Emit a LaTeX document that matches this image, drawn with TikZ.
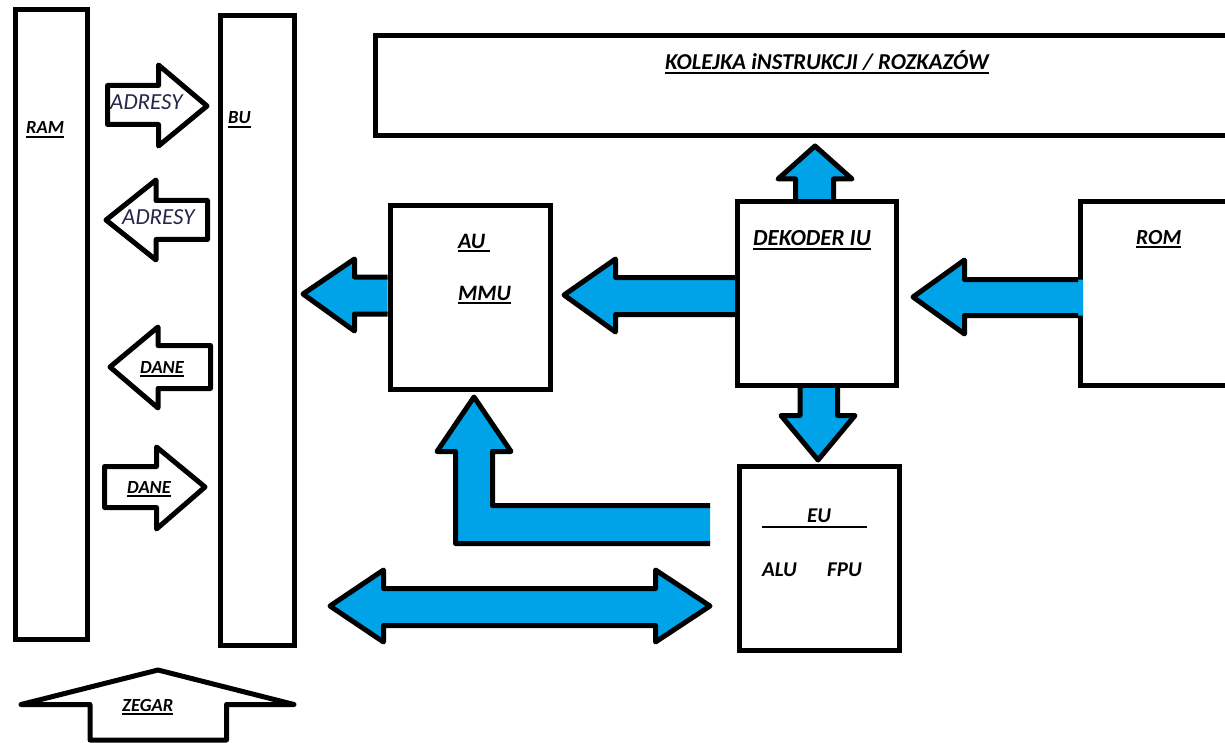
\documentclass[tikz,border=0pt]{standalone}
\usepackage{fontspec}
\setmainfont{Carlito}
\definecolor{pblue}{RGB}{0,162,232}
\definecolor{adr}{RGB}{35,40,75}
\newsavebox\ulb
\newcommand\ulx[1]{\sbox\ulb{#1}\rlap{\rule[-3.6pt]{\wd\ulb}{2pt}}\usebox\ulb}
\begin{document}
\begin{tikzpicture}[x=1pt,y=-1pt,
  box/.style={draw, line width=5pt, fill=white, inner sep=0pt, outer sep=0pt},
  warrow/.style={draw, line width=5pt, fill=white, line join=round},
  bline/.style={draw, line width=5pt, line join=round},
  lbl/.style={inner sep=0pt, anchor=base west, font=\bfseries\itshape\fontsize{18.5}{20}\selectfont},
  lblb/.style={inner sep=0pt, anchor=base west, font=\bfseries\itshape\fontsize{22}{24}\selectfont},
  lbla/.style={inner sep=0pt, anchor=base west, text=adr, font=\itshape\fontsize{23}{25}\selectfont}]
\useasboundingbox (0,0) rectangle (1225,743);
\fill[white] (0,0) rectangle (1225,743);

% boxes
\node[box, minimum width=72.5pt, minimum height=629.5pt] (ram) at (51.25,324.75) {};
\node[box, minimum width=74pt, minimum height=629.5pt] (bu) at (257.5,330.25) {};
\node[box, minimum width=865pt, minimum height=100.5pt] (kol) at (807.5,85.75) {};
\node[box, minimum width=160.5pt, minimum height=184pt] (au) at (470.25,297.5) {};
\node[box, minimum width=158.5pt, minimum height=184pt] (dek) at (816.75,293.5) {};
\node[box, minimum width=160.5pt, minimum height=184pt] (eu) at (819.25,558.5) {};
\node[box, minimum width=159.5pt, minimum height=183.5pt] (rom) at (1160.25,293.75) {};

% white arrows between RAM and BU
\draw[warrow] (107.5,85.5) -- (158.5,85.5) -- (158.5,65) -- (207,106) -- (158.5,146) -- (158.5,124.5) -- (107.5,124.5) -- cycle;
\draw[warrow] (207.5,200.5) -- (156,200.5) -- (156,180) -- (106,220) -- (156,260) -- (156,239.5) -- (207.5,239.5) -- cycle;
\draw[warrow] (210.5,345.5) -- (158,345.5) -- (158,327) -- (110,367) -- (158,408) -- (158,388.5) -- (210.5,388.5) -- cycle;
\draw[warrow] (104.5,466.5) -- (156.5,466.5) -- (156.5,447) -- (205,487) -- (156.5,529) -- (156.5,507.5) -- (104.5,507.5) -- cycle;
% ZEGAR
\draw[warrow] (90,740) -- (90,704.5) -- (21,704.5) -- (158,670) -- (294,704.5) -- (226.5,704.5) -- (226.5,740) -- cycle;

% blue arrows
% AU -> BU
\fill[pblue] (387.5,277) -- (354.5,277) -- (354.5,259) -- (303,294) -- (354.5,331) -- (354.5,314) -- (387.5,314) -- cycle;
\draw[bline] (387.5,277) -- (354.5,277) -- (354.5,259) -- (303,294) -- (354.5,331) -- (354.5,314) -- (387.5,314);
% DEKODER -> AU
\fill[pblue] (735,277.5) -- (615.5,277.5) -- (615.5,259) -- (564,295) -- (615.5,332) -- (615.5,314.5) -- (735,314.5) -- cycle;
\draw[bline] (735,277.5) -- (615.5,277.5) -- (615.5,259) -- (564,295) -- (615.5,332) -- (615.5,314.5) -- (735,314.5);
% DEKODER -> KOLEJKA
\fill[pblue] (795.5,199) -- (795.5,179) -- (778,179) -- (815,146) -- (852,179) -- (833.5,179) -- (833.5,199) -- cycle;
\draw[bline] (795.5,199) -- (795.5,179) -- (778,179) -- (815,146) -- (852,179) -- (833.5,179) -- (833.5,199);
% DEKODER -> EU
\fill[pblue] (800,388) -- (800,415.5) -- (781,415.5) -- (818,460) -- (855,415.5) -- (837.5,415.5) -- (837.5,388) -- cycle;
\draw[bline] (800,388) -- (800,415.5) -- (781,415.5) -- (818,460) -- (855,415.5) -- (837.5,415.5) -- (837.5,388);
% ROM -> DEKODER
\fill[pblue] (1083,279.5) -- (964.5,279.5) -- (964.5,260) -- (913,297) -- (964.5,334) -- (964.5,315.5) -- (1083,315.5) -- cycle;
\draw[bline] (1078,279.5) -- (964.5,279.5) -- (964.5,260) -- (913,297) -- (964.5,334) -- (964.5,315.5) -- (1078,315.5);
% EU -> AU (L shape)
\fill[pblue] (710,505.5) -- (492.5,505.5) -- (492.5,451.5) -- (511,451.5) -- (474,397) -- (437,451.5) -- (455.5,451.5) -- (455.5,543.5) -- (710,543.5) -- cycle;
\draw[bline] (710,505.5) -- (492.5,505.5) -- (492.5,451.5) -- (511,451.5) -- (474,397) -- (437,451.5) -- (455.5,451.5) -- (455.5,543.5) -- (710,543.5);
% double arrow
\draw[bline, fill=pblue] (330,606) -- (383.5,570) -- (383.5,588.5) -- (655.5,588.5) -- (655.5,570) -- (710,606) -- (655.5,642) -- (655.5,625.5) -- (383.5,625.5) -- (383.5,642) -- cycle;

% EU line
\coordinate (eul) at (762,527);
\coordinate (eur) at (867,527);
\draw[line width=2pt] (eul) -- (eur);

% labels
\node[lbl] (tram) at (26,134) {\ulx{RAM}};
\node[lbl] (tbu) at (228,124) {\ulx{BU}};
\node[lbla] (tadr1) at (110,110) {ADRESY};
\node[lbla] (tadr2) at (122,225) {ADRESY};
\node[lbl] (tdane1) at (140,373) {\ulx{DANE}};
\node[lbl] (tdane2) at (127,493) {\ulx{DANE}};
\node[lbl] (tzeg) at (122,711) {\ulx{ZEGAR}};
\node[inner sep=0pt, anchor=base west, font=\bfseries\itshape\fontsize{22.7}{25}\selectfont] (tkol) at (665,70) {\ulx{KOLEJKA iNSTRUKCJI / ROZKAZÓW}};
\node[lblb] (tau) at (458,248) {\ulx{AU\ }};
\node[lblb] (tmmu) at (458,300) {\ulx{MMU}};
\node[inner sep=0pt, anchor=base west, font=\bfseries\itshape\fontsize{23}{25}\selectfont] (tdek) at (753,246) {\ulx{DEKODER IU}};
\node[inner sep=0pt, anchor=base west, font=\bfseries\itshape\fontsize{21.5}{24}\selectfont] (trom) at (1136,244) {\ulx{ROM}};
\node[inner sep=0pt, anchor=base west, font=\bfseries\itshape\fontsize{21}{24}\selectfont] (teu) at (807,522) {EU};
\node[inner sep=0pt, anchor=base west, font=\bfseries\itshape\fontsize{21}{24}\selectfont] (talu) at (762,576) {ALU};
\node[inner sep=0pt, anchor=base west, font=\bfseries\itshape\fontsize{21}{24}\selectfont] (tfpu) at (827,576) {FPU};
\end{tikzpicture}
\end{document}
